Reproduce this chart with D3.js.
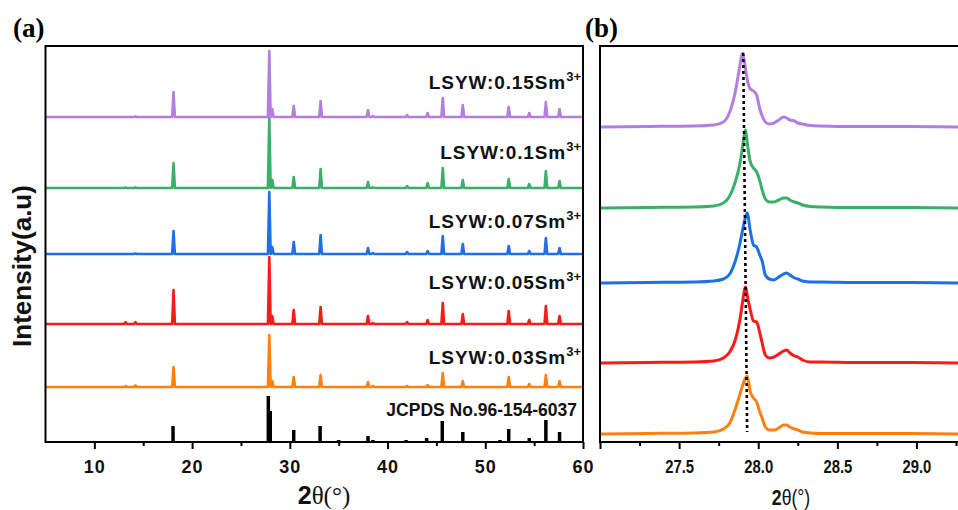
<!DOCTYPE html>
<html>
<head>
<meta charset="utf-8">
<script src="https://cdn.jsdelivr.net/npm/d3@7"></script>
<style>
  body { margin: 0; background: #fff; }
  svg { font-family: "Liberation Sans", Arial, sans-serif; }
</style>
</head>
<body>
<div id="chart"></div>
<script>
// ---- data ----
// (a) diffraction peaks, 2theta positions shared by all samples
var peakPos = [13.2, 14.2, 18.1, 27.9, 28.2, 30.4, 33.15, 38.0, 38.5, 42.0, 44.1, 45.65, 47.7, 52.4, 54.5, 56.2, 57.6];
var samples = ["0.03", "0.05", "0.07", "0.1", "0.15"];
var colors = ["#ff8012", "#fb1a1a", "#1f6fe5", "#3bae6a", "#b27ee0"];
var offsetsA = [55, 118, 188, 254, 325];
var peaks003 = [1, 1.5, 20, 52, 6, 10, 12, 5, 1, 1, 2, 14, 6, 10, 3, 12, 6];
var peaks005 = [2, 2, 34, 67, 8, 14, 17, 8, 1, 2, 4, 21, 10, 13, 4, 18, 8];
var peaks007 = [0, 0.5, 23, 62, 7, 12, 19, 6, 1, 2, 3, 18, 10, 8, 3, 16, 6];
var peaks010 = [0.5, 0.5, 25, 70, 8, 11, 19, 6, 1, 2, 5, 20, 8, 9, 4, 17, 7];
var peaks015 = [0, 0.5, 25, 66, 8, 11, 16, 7, 1, 2, 4, 19, 12, 10, 4, 15, 8];

// reference card sticks
var refPos = [18.05, 27.8, 28.0, 30.4, 33.1, 35.0, 38.0, 38.5, 41.9, 44.0, 45.6, 47.7, 51.5, 52.4, 54.5, 56.2, 57.6];
var refInt = [16, 46, 31, 12, 16, 2, 6, 2, 2, 4, 21, 10, 2, 13, 4, 22, 10];

// (b) zoom of the main reflection
var zoomX = [27.0, 27.3, 27.6, 27.72, 27.78, 27.82, 27.855, 27.885, 27.90, 27.92, 27.93, 27.95, 27.97, 27.99, 28.01, 28.025, 28.045, 28.07, 28.1, 28.13, 28.16, 28.18, 28.2, 28.23, 28.25, 28.28, 28.33, 28.4, 28.6, 28.9, 29.3];
var offsetsB = [8, 79, 159, 234, 315];
var zoom003 = [0, 0.5, 1, 2, 5, 11, 25, 40, 48, 56, 58, 42, 36, 32, 22, 16, 7, 4, 4, 6, 9, 9, 7, 5, 4, 2, 1, 0.5, 0.5, 0.5, 0];
var zoom005 = [0, 0.5, 1, 2, 5, 11, 23, 44, 60, 76, 68, 53, 42, 41, 30, 20, 8, 5, 6, 9, 12, 13, 10, 7, 6, 3, 1, 1, 0.5, 0.5, 0];
var zoom007 = [0, 0.5, 1, 2, 4, 9, 22, 40, 52, 66, 70, 52, 38, 36, 28, 22, 8, 4, 3, 6, 9, 10, 8, 5, 4, 2, 1, 1, 0.5, 0.5, 0];
var zoom010 = [0, 0.5, 1, 2, 5, 12, 26, 45, 60, 78, 66, 46, 40, 36, 27, 18, 9, 6, 6, 8, 10, 10, 8, 6, 5, 3, 1.5, 1, 0.5, 0.5, 0];
var zoom015 = [0, 0.5, 1, 2, 5, 15, 35, 62, 74, 58, 48, 38, 36, 32, 18, 11, 5, 3, 4, 7, 10, 9, 7, 6, 4, 3, 1.5, 1, 0.5, 0.5, 0];
var guideX = [27.905, 27.93];
var guideY = [389, 10];

var peaksA = [peaks003, peaks005, peaks007, peaks010, peaks015];
var zoomB = [zoom003, zoom005, zoom007, zoom010, zoom015];

// ---- layout ----
var w = 958, h = 510;
var serif = "'Liberation Serif', 'Times New Roman', serif";
var svg = d3.select("#chart").append("svg")
  .attr("width", w)
  .attr("height", h);

var xA = d3.scaleLinear().domain([5, 60]).range([45.5, 583]);
var yA = d3.scaleLinear().domain([0, 396]).range([442, 46]);
var xB = d3.scaleLinear().domain([27, 29.25]).range([600, 956]);
var yB = yA;

svg.append("defs").append("clipPath").attr("id", "clipB")
  .append("rect").attr("x", 600).attr("y", 40).attr("width", 360).attr("height", 410);

// ---- panel (a) ----
var halfW = 0.14; // peak half width in degrees (drawing style)
var lineA = d3.line().x(d => xA(d[0])).y(d => yA(d[1]));

peaksA.forEach(function (hs, i) {
  var pts = [[5, offsetsA[i]]];
  peakPos.forEach(function (p, j) {
    pts.push([p - halfW, offsetsA[i]]);
    pts.push([p, offsetsA[i] + hs[j]]);
    pts.push([p + halfW, offsetsA[i]]);
  });
  pts.push([60, offsetsA[i]]);
  svg.append("path")
    .datum(pts)
    .attr("d", lineA)
    .attr("fill", "none")
    .attr("stroke", colors[i])
    .attr("stroke-width", 2.6)
    .attr("stroke-linejoin", "round");
});

svg.append("g").selectAll("line")
  .data(refPos.map((p, i) => [p, refInt[i]]))
  .enter().append("line")
  .attr("x1", d => xA(d[0]))
  .attr("x2", d => xA(d[0]))
  .attr("y1", yA(0))
  .attr("y2", d => yA(d[1]))
  .attr("stroke", "#000")
  .attr("stroke-width", 3.5);

// labels
var gaps = [23, 35, 26, 29, 28];
samples.forEach(function (s, i) {
  var t = svg.append("text")
    .attr("x", 581)
    .attr("y", yA(offsetsA[i]) - gaps[i])
    .attr("text-anchor", "end")
    .attr("font-size", 19)
    .attr("font-weight", "bold")
    .attr("letter-spacing", 0.9)
    .attr("fill", "#111");
  t.append("tspan").text("LSYW:" + s + "Sm");
  t.append("tspan").attr("dy", -8).attr("font-size", 13).attr("letter-spacing", 0).text("3+");
});
svg.append("text")
  .attr("x", 577)
  .attr("y", 416)
  .attr("text-anchor", "end")
  .attr("font-size", 17.5)
  .attr("font-weight", "bold")
  .attr("fill", "#111")
  .text("JCPDS No.96-154-6037");

// axes (a)
var axA = svg.append("g").attr("transform", "translate(0,442)")
  .call(d3.axisBottom(xA).tickValues([10, 20, 30, 40, 50, 60]).tickSize(7).tickSizeOuter(0).tickPadding(11));
svg.append("g").attr("transform", "translate(0,442)")
  .call(d3.axisBottom(xA).tickValues([15, 25, 35, 45, 55]).tickSize(4).tickSizeOuter(0).tickFormat(""));

svg.append("rect")
  .attr("x", 45.5).attr("y", 46)
  .attr("width", 583 - 45.5).attr("height", 442 - 46)
  .attr("fill", "none").attr("stroke", "#000").attr("stroke-width", 2);

// ---- panel (b) ----
var lineB = d3.line().curve(d3.curveMonotoneX).x(d => xB(d[0])).y(d => yB(d[1]));
var gB = svg.append("g").attr("clip-path", "url(#clipB)");
zoomB.forEach(function (vals, i) {
  gB.append("path")
    .datum(zoomX.map((x, j) => [x, offsetsB[i] + vals[j]]))
    .attr("d", lineB)
    .attr("fill", "none")
    .attr("stroke", colors[i])
    .attr("stroke-width", 3);
});
svg.append("line")
  .attr("x1", xB(guideX[0])).attr("y1", yB(guideY[0]))
  .attr("x2", xB(guideX[1])).attr("y2", yB(guideY[1]))
  .attr("stroke", "#000").attr("stroke-width", 2.6)
  .attr("stroke-dasharray", "3,3");

var axB = svg.append("g").attr("transform", "translate(0,442)")
  .call(d3.axisBottom(xB).tickValues([27.0, 27.5, 28.0, 28.5, 29.0]).tickSize(7).tickSizeOuter(0).tickPadding(11).tickFormat(d => d === 27 ? "" : d3.format(".1f")(d)));
svg.append("g").attr("transform", "translate(0,442)")
  .call(d3.axisBottom(xB).tickValues([27.25, 27.75, 28.25, 28.75, 29.25]).tickSize(4).tickSizeOuter(0).tickFormat(""));

svg.append("path")
  .attr("d", `M${xB(29.25) + 10},46 H600 V442 H${xB(29.25) + 10}`)
  .attr("fill", "none").attr("stroke", "#000").attr("stroke-width", 2);

// style axes
svg.selectAll(".domain").remove();
svg.selectAll(".tick line").attr("stroke", "#000").attr("stroke-width", 2);
axA.selectAll("text").style("font-family", null).attr("font-family", null)
  .attr("font-size", 18).attr("font-weight", "bold").attr("letter-spacing", 1).attr("fill", "#111");
axB.selectAll("text").attr("font-family", null)
  .attr("font-size", 19).attr("font-weight", "bold").attr("fill", "#111")
  .attr("transform", "scale(0.78,1)");
svg.selectAll(".tick text").style("font-family", "'Liberation Sans', Arial, sans-serif");

// titles
var xtA = svg.append("text").attr("x", 324).attr("y", 504).attr("text-anchor", "middle").attr("font-size", 25).attr("fill", "#111");
xtA.append("tspan").attr("font-weight", "bold").text("2");
xtA.append("tspan").style("font-family", serif).text("θ(°)");

var xtB = svg.append("text").attr("transform", "translate(791,505) scale(0.8,1)").attr("text-anchor", "middle").attr("font-size", 22).attr("fill", "#111");
xtB.append("tspan").attr("font-weight", "bold").text("2");
xtB.append("tspan").text("θ(°)");

svg.append("text")
  .attr("transform", "translate(31,266) rotate(-90)")
  .attr("text-anchor", "middle")
  .attr("font-size", 26)
  .attr("font-weight", "bold")
  .attr("fill", "#111")
  .text("Intensity(a.u)");

svg.append("text").attr("x", 13).attr("y", 37)
  .style("font-family", serif)
  .attr("font-weight", "bold").attr("font-size", 27).text("(a)");
svg.append("text").attr("x", 585).attr("y", 37)
  .style("font-family", serif)
  .attr("font-weight", "bold").attr("font-size", 27).text("(b)");
</script>
</body>
</html>
